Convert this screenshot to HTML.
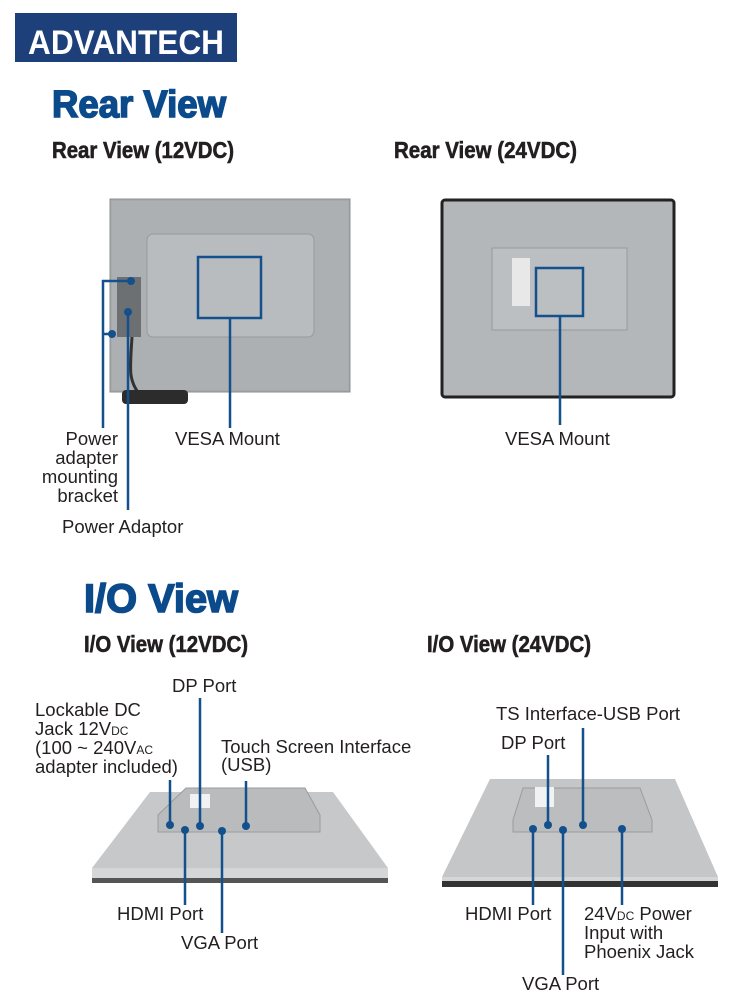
<!DOCTYPE html>
<html><head><meta charset="utf-8"><style>
html,body{margin:0;padding:0;background:#fff;}
svg{display:block;}
.l{font-family:"Liberation Sans",Arial,sans-serif;font-size:18.5px;fill:#231f20;}
.h1{font-family:"Liberation Sans Narrow","Liberation Sans",sans-serif;font-weight:bold;fill:#0b4a8b;stroke:#0b4a8b;stroke-width:1.6;}
.h2{font-family:"Liberation Sans Narrow","Liberation Sans",sans-serif;font-weight:bold;fill:#231f20;font-size:23px;stroke:#231f20;stroke-width:0.6;}
.ln{stroke:#13508c;stroke-width:2.5;fill:none;}
.dot{fill:#13508c;}
</style></head><body>
<svg width="750" height="1000" viewBox="0 0 750 1000" xmlns="http://www.w3.org/2000/svg">
<rect x="15" y="13" width="222" height="49" fill="#1d3f7a"/>
<text x="126" y="54" text-anchor="middle" font-family="Liberation Sans,sans-serif" font-weight="bold" font-size="34" fill="#fff" textLength="196" lengthAdjust="spacingAndGlyphs">ADVANTECH</text>
<text class="h1" x="52" y="117" font-size="38" textLength="174" lengthAdjust="spacingAndGlyphs">Rear View</text>
<text class="h2" x="52" y="158" textLength="182" lengthAdjust="spacingAndGlyphs">Rear View (12VDC)</text>
<text class="h2" x="394" y="158" textLength="183" lengthAdjust="spacingAndGlyphs">Rear View (24VDC)</text>

<!-- 12V rear -->
<rect x="110" y="199" width="240" height="193" fill="#a7aaad" stroke="#8a8d90"/>
<rect x="112" y="201" width="236" height="189" fill="#adb0b3"/>
<rect x="147" y="234" width="167" height="103" rx="6" fill="#b9bcbf" stroke="#999"/>
<rect x="198" y="257" width="63" height="61" class="ln" fill="none"/>
<rect x="117" y="277" width="24" height="60" fill="#6d7073"/>
<path d="M132 337 C130 370 128 380 140 395 L185 398" stroke="#333" stroke-width="3" fill="none"/>
<rect x="122" y="390" width="66" height="14" rx="4" fill="#2c2c2c"/>
<circle cx="131" cy="281" r="4" class="dot"/><circle cx="112" cy="334" r="4" class="dot"/><circle cx="128" cy="312" r="4" class="dot"/>
<path class="ln" d="M131 281 H103 V428 M103 334 H112 M128 312 V510 M230 318 V428"/>
<g class="l">
<text x="118" y="445" text-anchor="end">Power</text>
<text x="118" y="464" text-anchor="end">adapter</text>
<text x="118" y="483" text-anchor="end">mounting</text>
<text x="118" y="502" text-anchor="end">bracket</text>
<text x="175" y="445">VESA Mount</text>
<text x="62" y="533">Power Adaptor</text>
</g>

<!-- 24V rear -->
<rect x="442" y="200" width="232" height="197" fill="#b4b7ba" stroke="#222" stroke-width="3" rx="3"/>
<rect x="492" y="248" width="135" height="82" fill="#bcbfc2" stroke="#999"/>
<rect x="512" y="258" width="18" height="48" fill="#e8e8e8"/>
<rect x="536" y="268" width="47" height="48" class="ln"/>
<path class="ln" d="M560 316 V425"/>
<text class="l" x="505" y="445">VESA Mount</text>

<text class="h1" x="84" y="612" font-size="40" textLength="154" lengthAdjust="spacingAndGlyphs">I/O View</text>
<text class="h2" x="84" y="652" textLength="164" lengthAdjust="spacingAndGlyphs">I/O View (12VDC)</text>
<text class="h2" x="427" y="652" textLength="164" lengthAdjust="spacingAndGlyphs">I/O View (24VDC)</text>

<!-- 12V IO -->
<path d="M150 792 L333 792 L388 868 L92 868 Z" fill="#c6c8ca"/>
<rect x="92" y="868" width="296" height="10" fill="#d4d6d8"/>
<rect x="92" y="878" width="296" height="5" fill="#555"/>
<path d="M186 788 L305 788 L320 815 L320 832 L158 832 L158 815 Z" fill="#b9bbbd" stroke="#9a9c9e"/>
<rect x="190" y="794" width="20" height="14" fill="#f2f2f2"/>
<circle cx="170" cy="825" r="4" class="dot"/><circle cx="200" cy="826" r="4" class="dot"/><circle cx="246" cy="826" r="4" class="dot"/>
<circle cx="185" cy="830" r="4" class="dot"/><circle cx="222" cy="831" r="4" class="dot"/>
<path class="ln" d="M170 825 V780 M200 826 V698 M246 826 V781 M185 830 V905 M222 831 V933"/>
<g class="l">
<text x="172" y="692">DP Port</text>
<text x="35" y="716">Lockable DC</text>
<text x="35" y="735">Jack 12V<tspan font-size="12">DC</tspan></text>
<text x="35" y="754">(100 ~ 240V<tspan font-size="12">AC</tspan></text>
<text x="35" y="773">adapter included)</text>
<text x="221" y="753">Touch Screen Interface</text>
<text x="221" y="771">(USB)</text>
<text x="117" y="920">HDMI Port</text>
<text x="181" y="949">VGA Port</text>
</g>

<!-- 24V IO -->
<path d="M490 779 L675 779 L718 877 L442 877 Z" fill="#c4c6c8"/>
<rect x="442" y="877" width="276" height="4" fill="#d4d6d8"/>
<rect x="442" y="881" width="276" height="6" fill="#333"/>
<path d="M523 788 L640 788 L652 820 L652 832 L513 832 L513 820 Z" fill="#bbbdbf" stroke="#9a9c9e"/>
<rect x="535" y="787" width="19" height="20" fill="#f2f2f2"/>
<circle cx="533" cy="829" r="4" class="dot"/><circle cx="548" cy="825" r="4" class="dot"/><circle cx="583" cy="825" r="4" class="dot"/>
<circle cx="563" cy="830" r="4" class="dot"/><circle cx="622" cy="829" r="4" class="dot"/>
<path class="ln" d="M548 825 V755 M583 825 V728 M533 829 V905 M563 830 V975 M622 829 V905"/>
<g class="l">
<text x="496" y="720">TS Interface-USB Port</text>
<text x="501" y="749">DP Port</text>
<text x="465" y="920">HDMI Port</text>
<text x="584" y="920">24V<tspan font-size="12">DC</tspan> Power</text>
<text x="584" y="939">Input with</text>
<text x="584" y="958">Phoenix Jack</text>
<text x="522" y="990">VGA Port</text>
</g>
</svg>
</body></html>
